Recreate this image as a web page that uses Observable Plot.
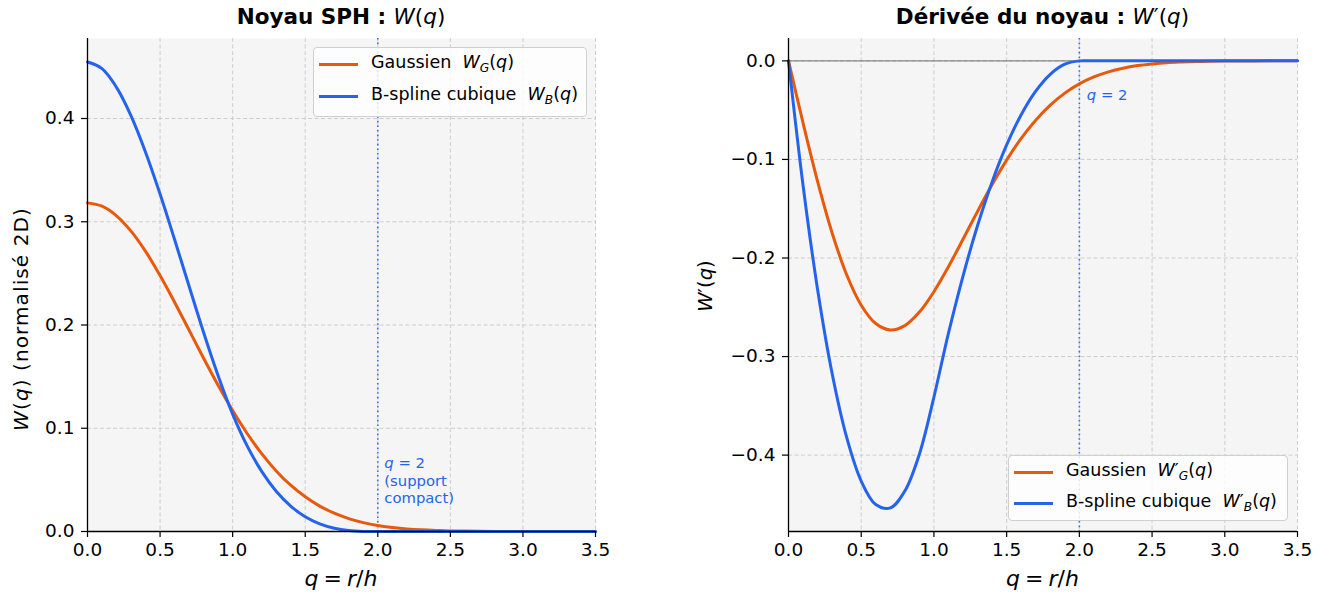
<!DOCTYPE html>
<html><head><meta charset="utf-8">
<script src="https://cdn.jsdelivr.net/npm/d3@7"></script>
<script src="https://cdn.jsdelivr.net/npm/@observablehq/plot@0.6"></script>
<style>
body{margin:0;background:#fff;font-family:"DejaVu Sans",sans-serif;color:#000;}
#root{position:relative;width:1324px;height:598px;overflow:hidden;}
.abs{position:absolute;white-space:nowrap;line-height:1;}
.title{font-size:21.5px;font-weight:bold;transform:translate(-50%,0);}
.title .m{font-weight:normal;}
.xlab{font-size:22px;transform:translate(-50%,-50%);word-spacing:-2px;}
.ylab{transform:translate(-50%,-50%) rotate(-90deg);}
.legend{border:1px solid #d0d0d0;border-radius:4px;background:rgba(255,255,255,0.82);box-sizing:border-box;font-size:17.5px;}
.row{position:absolute;left:0;display:flex;align-items:center;height:22px;}
.sw{display:inline-block;width:39px;height:3px;margin-left:5px;margin-right:13px;}
sub{font-size:70%;vertical-align:-0.3em;}
.ann{font-size:14.8px;line-height:17.5px;}
</style></head><body><div id="root"></div>
<script>
// ---- data ----
const q = [0,0.1,0.2,0.3,0.4,0.5,0.6,0.7,0.8,0.9,1.0,1.1,1.2,1.3,1.4,1.5,1.6,1.7,1.8,1.9,2.0,2.1,2.2,2.3,2.4,2.5,2.6,2.7,2.8,2.9,3.0,3.1,3.2,3.3,3.4,3.5];
const wGauss = [0.3183,0.3151,0.3058,0.2909,0.2713,0.2479,0.2221,0.1950,0.1678,0.1416,0.1171,0.0949,0.0754,0.0587,0.0448,0.0336,0.0246,0.0177,0.0125,0.0086,0.0058,0.0039,0.0025,0.0016,0.0010,0.0006,0.0004,0.0002,0.0001,0.0001,0,0,0,0,0,0];
const wBspline = [0.4547,0.4483,0.4302,0.4026,0.3674,0.3268,0.2828,0.2375,0.1928,0.1509,0.1137,0.0829,0.0582,0.0390,0.0246,0.0142,0.0073,0.0031,0.0009,0.0001,0,0,0,0,0,0,0,0,0,0,0,0,0,0,0,0];
const dwGauss = [0,-0.0630,-0.1223,-0.1746,-0.2170,-0.2479,-0.2665,-0.2730,-0.2686,-0.2549,-0.2342,-0.2088,-0.1810,-0.1527,-0.1255,-0.1007,-0.0787,-0.0602,-0.0449,-0.0327,-0.0233,-0.0163,-0.0111,-0.0074,-0.0048,-0.0031,-0.0019,-0.0012,-0.0007,-0.0004,-0.0002,-0.0001,-0.0001,0,0,0];
const dwBspline = [0,-0.1262,-0.2319,-0.3172,-0.3820,-0.4263,-0.4502,-0.4536,-0.4365,-0.3990,-0.3411,-0.2763,-0.2183,-0.1671,-0.1228,-0.0853,-0.0546,-0.0307,-0.0136,-0.0034,0,0,0,0,0,0,0,0,0,0,0,0,0,0,0,0];
const xTicks = [0,0.5,1.0,1.5,2.0,2.5,3.0,3.5];
const yTicksLeft = [0,0.1,0.2,0.3,0.4];
const yTicksRight = [0,-0.1,-0.2,-0.3,-0.4];
const xDomain = [0,3.5];
const yDomainLeft = [0,0.4775];
const yDomainRight = [-0.4775,0.0227];
const supportQ = 2;

const ORANGE = "#e8590c", BLUE = "#2563eb";
const root = document.getElementById("root");
const fmt = d => d3.format(".1f")(d).replace("-", "\u2212");

function panel({left, width, mLeft, mRight, yDomain, yTicks, ys, zeroLine}) {
  const H = 598, mTop = 38, mBottom = 67;
  const rows = q.map((v,i) => ({q:v, a:ys[0][i], b:ys[1][i]}));
  const marks = [
    Plot.frame({fill:"#f5f5f5", stroke:"none"}),
    Plot.gridX(xTicks, {stroke:"#c8c8c8", strokeOpacity:1, strokeDasharray:"4,2.5", strokeWidth:0.9}),
    Plot.gridY(yTicks, {stroke:"#c8c8c8", strokeOpacity:1, strokeDasharray:"4,2.5", strokeWidth:0.9}),
    Plot.ruleX([supportQ], {stroke:BLUE, strokeOpacity:0.9, strokeWidth:1.6, strokeDasharray:"1.6,3"})
  ];
  if (zeroLine) marks.push(Plot.ruleY([0], {stroke:"#444", strokeOpacity:0.6, strokeWidth:1.1}));
  marks.push(
    Plot.line(rows, {x:"q", y:"a", stroke:ORANGE, strokeWidth:3, curve:"catmull-rom"}),
    Plot.line(rows, {x:"q", y:"b", stroke:BLUE, strokeWidth:3, curve:"catmull-rom"}),
    Plot.ruleY([yDomain[0]], {stroke:"#000", strokeWidth:1.3}),
    Plot.ruleX([xDomain[0]], {stroke:"#000", strokeWidth:1.3}),
    Plot.axisX(xTicks, {tickSize:6, tickPadding:5, tickFormat:fmt, label:null, fontSize:18, strokeWidth:1.2}),
    Plot.axisY(yTicks, {tickSize:6, tickPadding:7, tickFormat:fmt, label:null, fontSize:18, strokeWidth:1.2})
  );
  const p = Plot.plot({
    width, height:H, marginTop:mTop, marginBottom:mBottom, marginLeft:mLeft, marginRight:mRight,
    x:{domain:xDomain}, y:{domain:yDomain},
    style:{fontFamily:"DejaVu Sans", fontSize:"18px", color:"#000", background:"transparent", overflow:"visible"},
    marks
  });
  p.querySelectorAll('[aria-label$="tick label"]').forEach(g => { g.style.fontSize = "18.5px"; });
  p.style.position = "absolute"; p.style.left = left + "px"; p.style.top = "0px";
  root.appendChild(p);
  return p;
}

function add(html, cls, x, y, extra) {
  const d = document.createElement("div");
  d.className = "abs " + cls;
  d.innerHTML = html;
  d.style.left = x + "px"; d.style.top = y + "px";
  if (extra) Object.assign(d.style, extra);
  root.appendChild(d);
  return d;
}

// Left panel
const L = {left:0, width:620, mLeft:87, mRight:25};
const pL = panel({...L, yDomain:yDomainLeft, yTicks:yTicksLeft, ys:[wGauss,wBspline], zeroLine:false});
// Right panel
const R = {left:700, width:624, mLeft:88, mRight:27};
const pR = panel({...R, yDomain:yDomainRight, yTicks:yTicksRight, ys:[dwGauss,dwBspline], zeroLine:true});

const cL = L.left + (L.mLeft + L.width - L.mRight)/2;
const cR = R.left + (R.mLeft + R.width - R.mRight)/2;

add('Noyau SPH : <span class="m"><i>W</i>(<i>q</i>)</span>', "title", cL, 6);
add('Dérivée du noyau : <span class="m"><i>W</i>′(<i>q</i>)</span>', "title", cR, 6);
add('<i>q</i> = <i>r</i>/<i>h</i>', "xlab", cL, 579);
add('<i>q</i> = <i>r</i>/<i>h</i>', "xlab", cR, 579);
add('<i>W</i>(<i>q</i>) (normalisé 2D)', "ylab", 21, 319, {fontSize:"20px", letterSpacing:"1.1px"});
add('<i>W</i>′(<i>q</i>)', "ylab", 706, 286, {fontSize:"19.5px"});

// annotations at q = 2
const sxL = pL.scale("x");
const sxR = pR.scale("x");
add('<i>q</i> = 2<br>(support<br>compact)', "ann", L.left + sxL.apply(supportQ) + 7, 454, {color:BLUE});
add('<i>q</i> = 2', "ann", R.left + sxR.apply(supportQ) + 8, 86, {color:BLUE});

// legends
function legend(x, y, w, h, tops, items) {
  const d = add("", "legend", x, y, {width:w+"px", height:h+"px"});
  items.forEach((it, i) => {
    const r = document.createElement("div");
    r.className = "row";
    r.style.top = tops[i] + "px";
    r.innerHTML = `<span class="sw" style="background:${it.c}"></span><span>${it.t}</span>`;
    d.appendChild(r);
  });
}
legend(313, 47, 274, 70, [5, 37], [
  {c:ORANGE, t:'Gaussien&nbsp; <i>W</i><sub><i>G</i></sub>(<i>q</i>)'},
  {c:BLUE, t:'B-spline cubique&nbsp; <i>W</i><sub><i>B</i></sub>(<i>q</i>)'}
]);
legend(1008, 455, 280, 66, [5, 36], [
  {c:ORANGE, t:'Gaussien&nbsp; <i>W</i>′<sub><i>G</i></sub>(<i>q</i>)'},
  {c:BLUE, t:'B-spline cubique&nbsp; <i>W</i>′<sub><i>B</i></sub>(<i>q</i>)'}
]);
</script></body></html>
